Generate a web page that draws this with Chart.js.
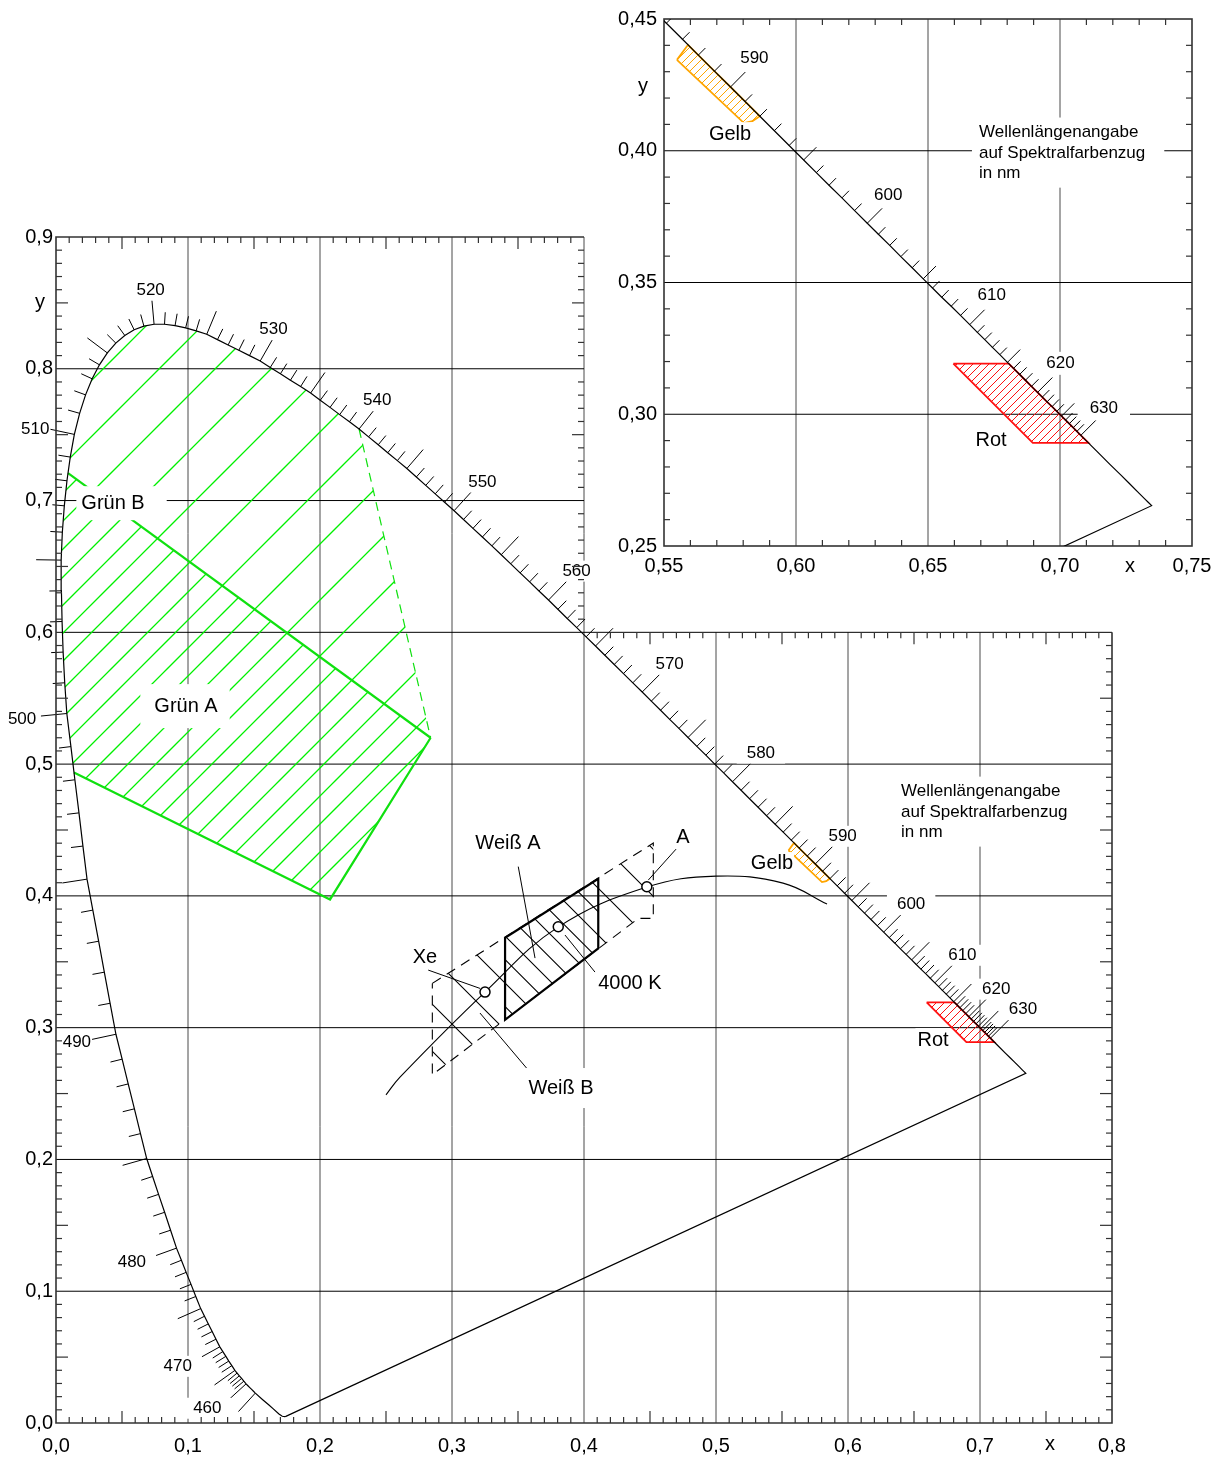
<!DOCTYPE html>
<html>
<head>
<meta charset="utf-8">
<title>Normfarbtafel – Signalfarben</title>
<script src="https://cdn.jsdelivr.net/npm/chart.js@4.4.1/dist/chart.umd.min.js"></script>
<style>
  html, body { margin: 0; padding: 0; background: #fff; }
  #wrap { position: relative; width: 1225px; height: 1458px; overflow: hidden; }
  #main { position: absolute; left: 0; top: 0; }
  #inset { position: absolute; left: 590px; top: 0; }
</style>
</head>
<body>
<div id="wrap">
  <canvas id="main" width="1225" height="1458"></canvas>
  <canvas id="inset" width="635" height="600"></canvas>
</div>
<script>
// ---------------- data ----------------
// CIE 1931 spectral locus (chromaticity x, y) by wavelength in nm
const locusNm = [
  380, 400, 420, 430, 440, 445, 450,
  455, 456, 457, 458, 459,
  460, 461, 462, 463, 464, 465, 466, 467, 468, 469,
  470, 471, 472, 473, 474, 475, 476, 477, 478, 479,
  480, 481, 482, 483, 484, 485, 486, 487, 488, 489,
  490, 491, 492, 493, 494, 495, 496, 497, 498, 499,
  500, 501, 502, 503, 504, 505, 506, 507, 508, 509,
  510, 511, 512, 513, 514, 515, 516, 517, 518, 519,
  520, 521, 522, 523, 524, 525, 526, 527, 528, 529,
  530, 531, 532, 533, 534, 535, 536, 537, 538, 539,
  540, 541, 542, 543, 544, 545, 546, 547, 548, 549,
  550, 551, 552, 553, 554, 555, 556, 557, 558, 559,
  560, 561, 562, 563, 564, 565, 566, 567, 568, 569,
  570, 571, 572, 573, 574, 575, 576, 577, 578, 579,
  580, 581, 582, 583, 584, 585, 586, 587, 588, 589,
  590, 591, 592, 593, 594, 595, 596, 597, 598, 599,
  600, 601, 602, 603, 604, 605, 606, 607, 608, 609,
  610, 611, 612, 613, 614, 615, 616, 617, 618, 619,
  620, 621, 622, 623, 624, 625, 626, 627, 628, 629,
  630,
  635, 640, 645, 650, 660, 670, 680, 700
];
const locusX = [
  0.1741, 0.1733, 0.1714, 0.1689, 0.1644, 0.1611, 0.1566,
  0.1510, 0.1496, 0.1482, 0.1468, 0.1454,
  0.1440, 0.1423, 0.1406, 0.1389, 0.1372, 0.1355, 0.1332, 0.1309, 0.1287, 0.1264,
  0.1241, 0.1212, 0.1183, 0.1154, 0.1125, 0.1096, 0.1059, 0.1023, 0.0986, 0.0950,
  0.0913, 0.0868, 0.0823, 0.0777, 0.0732, 0.0687, 0.0640, 0.0594, 0.0547, 0.0501,
  0.0454, 0.0410, 0.0366, 0.0323, 0.0279, 0.0235, 0.0204, 0.0174, 0.0143, 0.0113,
  0.0082, 0.0066, 0.0054, 0.0046, 0.0041, 0.0039, 0.0048, 0.0063, 0.0083, 0.0108,
  0.0139, 0.0179, 0.0224, 0.0274, 0.0329, 0.0389, 0.0453, 0.0521, 0.0592, 0.0666,
  0.0743, 0.0822, 0.0902, 0.0982, 0.1062, 0.1142, 0.1223, 0.1304, 0.1385, 0.1466,
  0.1547, 0.1623, 0.1700, 0.1776, 0.1853, 0.1929, 0.2002, 0.2076, 0.2149, 0.2223,
  0.2296, 0.2368, 0.2441, 0.2513, 0.2586, 0.2658, 0.2730, 0.2801, 0.2873, 0.2944,
  0.3016, 0.3087, 0.3159, 0.3230, 0.3302, 0.3373, 0.3445, 0.3516, 0.3588, 0.3659,
  0.3731, 0.3802, 0.3873, 0.3945, 0.4016, 0.4087, 0.4158, 0.4229, 0.4299, 0.4370,
  0.4441, 0.4510, 0.4580, 0.4649, 0.4719, 0.4788, 0.4855, 0.4923, 0.4990, 0.5058,
  0.5125, 0.5190, 0.5254, 0.5319, 0.5383, 0.5448, 0.5509, 0.5570, 0.5630, 0.5691,
  0.5752, 0.5807, 0.5863, 0.5918, 0.5974, 0.6029, 0.6077, 0.6125, 0.6174, 0.6222,
  0.6270, 0.6312, 0.6355, 0.6397, 0.6440, 0.6482, 0.6517, 0.6552, 0.6588, 0.6623,
  0.6658, 0.6687, 0.6715, 0.6744, 0.6772, 0.6801, 0.6824, 0.6847, 0.6869, 0.6892,
  0.6915, 0.6933, 0.6951, 0.6970, 0.6988, 0.7006, 0.7021, 0.7035, 0.7050, 0.7064,
  0.7079,
  0.7140, 0.7190, 0.7230, 0.7260, 0.7300, 0.7320, 0.7334, 0.7347
];
const locusY = [
  0.0050, 0.0048, 0.0051, 0.0069, 0.0109, 0.0138, 0.0177,
  0.0227, 0.0241, 0.0255, 0.0269, 0.0283,
  0.0297, 0.0317, 0.0338, 0.0358, 0.0379, 0.0399, 0.0435, 0.0470, 0.0506, 0.0542,
  0.0578, 0.0636, 0.0694, 0.0752, 0.0810, 0.0868, 0.0960, 0.1052, 0.1143, 0.1235,
  0.1327, 0.1463, 0.1599, 0.1735, 0.1871, 0.2007, 0.2196, 0.2384, 0.2573, 0.2761,
  0.2950, 0.3185, 0.3421, 0.3656, 0.3892, 0.4127, 0.4378, 0.4630, 0.4881, 0.5133,
  0.5384, 0.5617, 0.5850, 0.6082, 0.6315, 0.6548, 0.6760, 0.6960, 0.7150, 0.7330,
  0.7502, 0.7662, 0.7802, 0.7924, 0.8030, 0.8120, 0.8195, 0.8253, 0.8296, 0.8324,
  0.8338, 0.8338, 0.8328, 0.8310, 0.8288, 0.8262, 0.8221, 0.8181, 0.8140, 0.8100,
  0.8059, 0.8010, 0.7962, 0.7913, 0.7865, 0.7816, 0.7761, 0.7707, 0.7652, 0.7598,
  0.7543, 0.7483, 0.7423, 0.7363, 0.7303, 0.7243, 0.7179, 0.7115, 0.7051, 0.6987,
  0.6923, 0.6856, 0.6789, 0.6723, 0.6656, 0.6589, 0.6520, 0.6451, 0.6383, 0.6314,
  0.6245, 0.6175, 0.6105, 0.6036, 0.5966, 0.5896, 0.5826, 0.5756, 0.5687, 0.5617,
  0.5547, 0.5478, 0.5409, 0.5340, 0.5271, 0.5202, 0.5135, 0.5068, 0.5000, 0.4933,
  0.4866, 0.4802, 0.4737, 0.4673, 0.4608, 0.4544, 0.4484, 0.4423, 0.4363, 0.4302,
  0.4242, 0.4187, 0.4131, 0.4076, 0.4020, 0.3965, 0.3917, 0.3869, 0.3821, 0.3773,
  0.3725, 0.3683, 0.3641, 0.3598, 0.3556, 0.3514, 0.3479, 0.3444, 0.3410, 0.3375,
  0.3340, 0.3311, 0.3283, 0.3254, 0.3226, 0.3197, 0.3174, 0.3151, 0.3129, 0.3106,
  0.3083, 0.3065, 0.3047, 0.3029, 0.3011, 0.2993, 0.2978, 0.2964, 0.2949, 0.2935,
  0.2920,
  0.2859, 0.2809, 0.2770, 0.2740, 0.2700, 0.2680, 0.2666, 0.2653
];
// wavelength marks on the locus (every nm from 460 nm, plus 455 nm) and the numbered ones
const tickRangeNm = [455, 630];
const fineTicksFromNm = 460;
const labelNmMain = [460, 470, 480, 490, 500, 510, 520, 530, 540, 550, 560, 570, 580, 590, 600, 610, 620, 630];
const labelNmInset = [590, 600, 610, 620, 630];

// Planckian locus
const planckX = [0.2500, 0.2606, 0.3250, 0.3803, 0.4477, 0.5000, 0.5508, 0.5841];
const planckY = [0.2490, 0.2625, 0.3270, 0.3763, 0.4067, 0.4150, 0.4097, 0.3938];

// reference points: Xe, 4000 K, light type A
const refNames = ['Xe', '4000 K', 'A'];
const refX = [0.3250, 0.3805, 0.4476];
const refY = [0.3270, 0.3766, 0.4069];

// signal colour regions (corner points; locus pieces are taken from the locus table)
const gruenUpper = [[0.0091, 0.7208], [0.2838, 0.5200]];                 // boundary Grün B / Grün A
const gruenLower = [[0.0136, 0.4937], [0.2076, 0.3973], [0.2838, 0.5200]];
const gruenOpen  = [[0.2296, 0.7543], [0.2838, 0.5200]];                 // dashed limit of Grün B
const weissB = [[0.2851, 0.3336], [0.4525, 0.4401], [0.4525, 0.3829], [0.4411, 0.3829], [0.2851, 0.2643]];
const weissA = [[0.3402, 0.3682], [0.4108, 0.4130], [0.4108, 0.3602], [0.3402, 0.3060]];
const gelbStart = [[0.5549, 0.4345], [0.5591, 0.4402]];
const gelbEnd   = [[0.5835, 0.4112], [0.5803, 0.4105]];
const rotStart  = [[0.6596, 0.3192], [0.6806, 0.3192]];
const rotEnd    = [[0.7108, 0.2891], [0.6897, 0.2891]];

// axis ticks
const xTicksMain = [0, 0.1, 0.2, 0.3, 0.4, 0.5, 0.6, 0.7, 0.8];
const xLabelsMain = ['0,0', '0,1', '0,2', '0,3', '0,4', '0,5', '0,6', '0,7', '0,8'];
const yTicksMain = [0, 0.1, 0.2, 0.3, 0.4, 0.5, 0.6, 0.7, 0.8, 0.9];
const yLabelsMain = ['0,0', '0,1', '0,2', '0,3', '0,4', '0,5', '0,6', '0,7', '0,8', '0,9'];
const xTicksInset = [0.55, 0.60, 0.65, 0.70, 0.75];
const xLabelsInset = ['0,55', '0,60', '0,65', '0,70', '0,75'];
const yTicksInset = [0.25, 0.30, 0.35, 0.40, 0.45];
const yLabelsInset = ['0,25', '0,30', '0,35', '0,40', '0,45'];

// ---------------- helpers ----------------
const FONT = '"Liberation Sans", Arial, Helvetica, sans-serif';
const pts = arr => arr.map(([x, y]) => ({x, y}));
const locusPts = locusNm.map((nm, i) => ({x: locusX[i], y: locusY[i]}));
function locusSlice(a, b) {
  const out = [];
  locusNm.forEach((nm, i) => { if (nm >= a && nm <= b) out.push({x: locusX[i], y: locusY[i]}); });
  return out;
}
const closed = p => p.concat([p[0]]);

// line hatching: '/' lines satisfy x + y = phase (mod period), '\' lines y - x = phase (mod period)
function hatch(color, period, phases, dir, lw) {
  const c = document.createElement('canvas');
  c.width = period; c.height = period;
  const g = c.getContext('2d');
  g.strokeStyle = color; g.lineWidth = lw;
  g.beginPath();
  for (const p of phases) {
    for (const k of [-1, 0, 1]) {
      const q = p + k * period;
      if (dir === '/') { g.moveTo(-3, q + 3); g.lineTo(q + 3, -3); }
      else { g.moveTo(-3, q - 3); g.lineTo(period + 3, q + period + 3); }
    }
  }
  g.stroke();
  return g.createPattern(c, 'repeat');
}

Chart.defaults.font.family = FONT;
Chart.defaults.color = '#000';
Chart.defaults.elements.point.radius = 0;
Chart.defaults.elements.point.hoverRadius = 0;
Chart.defaults.elements.line.tension = 0;

const GREEN = '#10e010', GREEN_H = '#00f000', ORANGE = '#ffa500', RED = '#ff1010';

// region polygons
const gruenAll = closed([{x: gruenLower[0][0], y: gruenLower[0][1]}]
  .concat(locusSlice(499, 540), pts([gruenLower[2], gruenLower[1]])));
const gruenA = closed([{x: gruenLower[0][0], y: gruenLower[0][1]}]
  .concat(locusSlice(499, 508), pts([gruenUpper[0], gruenLower[2], gruenLower[1]])));
const gelbPoly = closed(pts(gelbStart).concat(locusSlice(588, 592), pts(gelbEnd)));
const rotPoly = closed(pts(rotStart).concat(locusSlice(616, 630), pts(rotEnd)));

function lineDs(data, color, width, extra) {
  return Object.assign({data, borderColor: color, borderWidth: width, fill: false, pointRadius: 0}, extra || {});
}
function fillDs(data, pattern, borderColor, borderWidth, extra) {
  return Object.assign({data, backgroundColor: pattern, borderColor: borderColor || 'rgba(0,0,0,0)',
    borderWidth: borderWidth || 0, fill: 'shape', pointRadius: 0}, extra || {});
}

// text helper with white backing box
function paintNotes(chart, notes) {
  const {ctx, scales: {x, y}} = chart;
  ctx.save();
  ctx.textBaseline = 'middle';
  ctx.textAlign = 'left';
  for (const n of notes) {
    ctx.font = `${n.size}px ${FONT}`;
    const rows = n.rows.map(r => {
      const w = ctx.measureText(r.t).width;
      const px = x.getPixelForValue(r.x), py = y.getPixelForValue(r.y);
      return {t: r.t, left: n.align === 'left' ? px : px - w / 2, py, w};
    });
    if (n.pad) {
      const [pl, pr, pt, pb] = n.pad;
      const l = Math.min(...rows.map(r => r.left)) - pl;
      const r = Math.max(...rows.map(r => r.left + r.w)) + pr;
      const t = Math.min(...rows.map(r => r.py)) - n.size * 0.5 - pt;
      const b = Math.max(...rows.map(r => r.py)) + n.size * 0.5 + pb;
      ctx.fillStyle = '#fff';
      ctx.fillRect(l, t, r - l, b - t);
    }
    ctx.fillStyle = '#000';
    rows.forEach(r => ctx.fillText(r.t, r.left, r.py));
  }
  ctx.restore();
}

// perpendicular wavelength marks on the spectral locus
function paintLocusMarks(chart, cfg) {
  const {ctx, scales: {x, y}, chartArea: a} = chart;
  const X = v => x.getPixelForValue(v), Y = v => y.getPixelForValue(v);
  const cx = X(0.33), cy = Y(0.33);
  ctx.save();
  if (cfg.clip) { ctx.beginPath(); ctx.rect(a.left, a.top, a.right - a.left, a.bottom - a.top); ctx.clip(); }
  ctx.strokeStyle = '#000';
  ctx.lineWidth = 1;
  const labels = [];
  for (let i = 1; i < locusNm.length - 1; i++) {
    const nm = locusNm[i];
    if (nm < tickRangeNm[0] || nm > tickRangeNm[1]) continue;
    if (nm < fineTicksFromNm && nm % 5 !== 0) continue;
    const px = X(locusX[i]), py = Y(locusY[i]);
    const tx = X(locusX[i + 1]) - X(locusX[i - 1]), ty = Y(locusY[i + 1]) - Y(locusY[i - 1]);
    const d = Math.hypot(tx, ty) || 1;
    let nx = ty / d, ny = -tx / d;
    if ((px - cx) * nx + (py - cy) * ny < 0) { nx = -nx; ny = -ny; }
    const len = nm % 10 === 0 ? cfg.long10 : nm % 5 === 0 ? cfg.long5 : cfg.short;
    ctx.beginPath();
    ctx.moveTo(px, py);
    ctx.lineTo(px + nx * len, py + ny * len);
    ctx.stroke();
    if (cfg.labels.includes(nm)) labels.push({nm, px, py, nx, ny, len});
  }
  ctx.restore();
  ctx.save();
  ctx.font = `${cfg.size}px ${FONT}`;
  ctx.textBaseline = 'middle';
  ctx.textAlign = 'center';
  for (const L of labels) {
    const t = String(L.nm);
    const w = ctx.measureText(t).width;
    const nudge = (cfg.nudge && cfg.nudge[L.nm]) || [0, 0];
    const padX = (cfg.tight || []).includes(L.nm) ? 1 : cfg.padX;
    const gx = L.px + L.nx * (L.len + 3) + L.nx * w * 0.35 + nudge[0];
    const gy = L.py + L.ny * (L.len + 3) + L.ny * cfg.size * 0.42 - 2 + nudge[1];
    ctx.fillStyle = '#fff';
    ctx.fillRect(gx - w / 2 - padX, gy - cfg.size * 0.5 - cfg.padY, w + 2 * padX, cfg.size + 2 * cfg.padY);
    ctx.fillStyle = '#000';
    ctx.fillText(t, gx, gy);
  }
  ctx.restore();
}

function seg(ctx, x1, y1, x2, y2) { ctx.beginPath(); ctx.moveTo(x1, y1); ctx.lineTo(x2, y2); ctx.stroke(); }

// ---------------- main diagram ----------------
const mainNotes = [
  {rows: [{t: 'Grün B', x: 0.0432, y: 0.6980}], size: 20, pad: [5, 22, 7, 7]},
  {rows: [{t: 'Grün A', x: 0.0985, y: 0.5440}], size: 20, pad: [14, 12, 12, 12]},
  {rows: [{t: 'Weiß A', x: 0.3424, y: 0.4401}], size: 20, pad: [3, 3, 2, 2]},
  {rows: [{t: 'Xe', x: 0.2795, y: 0.3536}], size: 20, pad: [2, 2, 2, 2]},
  {rows: [{t: '4000 K', x: 0.4348, y: 0.3338}], size: 20, pad: [2, 2, 2, 2]},
  {rows: [{t: 'A', x: 0.4750, y: 0.4446}], size: 20, pad: [2, 2, 2, 2]},
  {rows: [{t: 'Weiß B', x: 0.3826, y: 0.2542}], size: 20, pad: [6, 6, 10, 10]},
  {rows: [{t: 'Gelb', x: 0.5424, y: 0.4249}], size: 20, pad: [1, 1, 1, 1]},
  {rows: [{t: 'Rot', x: 0.6644, y: 0.2906}], size: 20, pad: [2, 2, 2, 2]},
  {rows: [{t: 'Wellenlängenangabe', x: 0.6402, y: 0.4795},
          {t: 'auf Spektralfarbenzug', x: 0.6402, y: 0.4636},
          {t: 'in nm', x: 0.6402, y: 0.4484}], size: 17, align: 'left', pad: [7, 14, 6, 6]},
  {rows: [{t: 'y', x: -0.0121, y: 0.8500}], size: 20},
  {rows: [{t: 'x', x: 0.7530, y: -0.0165}], size: 20}
];

const mainFrame = {
  id: 'mainFrame',
  beforeDatasetsDraw(chart) {
    const {ctx, scales: {x, y}} = chart;
    const X = v => x.getPixelForValue(v), Y = v => y.getPixelForValue(v);
    ctx.save();
    ctx.lineWidth = 1;
    // vertical grid lines (upper right part belongs to the enlarged detail)
    for (let i = 1; i <= 7; i++) {
      ctx.strokeStyle = '#4a4a4a';
      seg(ctx, X(i / 10), Y(0), X(i / 10), Y(i <= 4 ? 0.9 : 0.6));
    }
    // horizontal grid lines
    for (let j = 1; j <= 8; j++) {
      ctx.strokeStyle = '#000';
      seg(ctx, X(0), Y(j / 10), X(j <= 6 ? 0.8 : 0.4), Y(j / 10));
    }
    ctx.restore();
  },
  afterDatasetsDraw(chart) {
    const {ctx, scales: {x, y}} = chart;
    const X = v => x.getPixelForValue(v), Y = v => y.getPixelForValue(v);
    paintLocusMarks(chart, {short: 12, long5: 25, long10: 26, labels: labelNmMain, size: 17, padX: 10, padY: 2,
      clip: false, tight: [490, 500, 510], nudge: {
        460: [-10, 2], 470: [-8, 4], 480: [-8, 4], 490: [-1, 2], 500: [-6, 4], 510: [-1, 4],
        520: [0, 4], 530: [-6, 2], 540: [-6, 2], 550: [2, 0], 560: [1, -1], 580: [1, -1], 630: [5, -1]}});
    ctx.save();
    // frame
    ctx.strokeStyle = '#333';
    ctx.lineWidth = 1.6;
    ctx.beginPath();
    ctx.moveTo(X(0.4), Y(0.9)); ctx.lineTo(X(0), Y(0.9)); ctx.lineTo(X(0), Y(0));
    ctx.lineTo(X(0.8), Y(0)); ctx.lineTo(X(0.8), Y(0.6));
    ctx.stroke();
    // hundredth ticks along the frame, pointing inward
    ctx.lineWidth = 1.2;
    const L = i => (i % 5 === 0 ? 12 : 6);
    for (let i = 1; i < 80; i++) {
      if (i % 10 === 0) continue;
      const v = i / 100;
      seg(ctx, X(v), Y(0), X(v), Y(0) - L(i));
      if (i < 40) seg(ctx, X(v), Y(0.9), X(v), Y(0.9) + L(i));
      else seg(ctx, X(v), Y(0.6), X(v), Y(0.6) + L(i));
    }
    for (let j = 1; j < 90; j++) {
      if (j % 10 === 0) continue;
      const v = j / 100;
      seg(ctx, X(0), Y(v), X(0) + L(j), Y(v));
      if (j < 60) seg(ctx, X(0.8), Y(v), X(0.8) - L(j), Y(v));
      else seg(ctx, X(0.4), Y(v), X(0.4) - L(j), Y(v));
    }
    ctx.restore();
    paintNotes(chart, mainNotes);
  }
};

const leaders = [
  [[0.3502, 0.4222], [0.3629, 0.3528]],   // Weiß A
  [[0.4083, 0.3422], [0.3856, 0.3703]],   // 4000 K
  [[0.2820, 0.3437], [0.3212, 0.3298]],   // Xe
  [[0.4702, 0.4360], [0.4487, 0.4120]],   // A
  [[0.3578, 0.2678], [0.3212, 0.3111]]    // Weiß B
];

const mainDatasets = [
  lineDs(locusPts.concat([locusPts[0]]), '#000', 1.2),
  {data: refX.map((v, i) => ({x: v, y: refY[i]})), showLine: false, pointRadius: 5, pointBorderWidth: 1.5,
   pointBackgroundColor: '#fff', pointBorderColor: '#000', pointHoverRadius: 5},
  ...leaders.map(l => lineDs(pts(l), '#000', 1)),
  lineDs(planckX.map((v, i) => ({x: v, y: planckY[i]})), '#000', 1.1, {tension: 0.4}),
  fillDs(closed(pts(weissA)), hatch('#000', 47, [31.5], '\\', 1.1), '#000', 2.2),
  fillDs(closed(pts(weissB)), hatch('#000', 47, [8], '\\', 1.1), '#000', 1.1, {borderDash: [10, 7]}),
  lineDs(pts(gruenUpper), GREEN, 2.2),
  lineDs(pts(gruenLower), GREEN, 2.2),
  lineDs(pts(gruenOpen), GREEN, 1.2, {borderDash: [9, 6]}),
  fillDs(gruenA, hatch(GREEN_H, 56, [52], '/', 1.3)),
  fillDs(gruenAll, hatch(GREEN_H, 56, [24], '/', 1.3)),
  fillDs(gelbPoly, hatch(ORANGE, 8, [3], '/', 1), ORANGE, 1.8),
  fillDs(rotPoly, hatch(RED, 8, [3], '/', 1), RED, 1.8)
];

function axisCfg(min, max, ticks, labels, size, pad, fit) {
  return {
    type: 'linear', min, max,
    afterBuildTicks: s => { s.ticks = ticks.map(v => ({value: v})); },
    afterFit: fit,
    ticks: {callback: (v, i) => labels[i], font: {size, family: FONT}, color: '#000',
            padding: pad, autoSkip: false, maxRotation: 0, minRotation: 0},
    grid: {display: false, drawTicks: false},
    border: {display: false}
  };
}

new Chart(document.getElementById('main'), {
  type: 'line',
  data: {datasets: mainDatasets},
  options: {
    responsive: false, animation: false, devicePixelRatio: 1, events: [],
    layout: {padding: {top: 237, right: 113, left: 0, bottom: 0}},
    plugins: {legend: {display: false}, tooltip: {enabled: false}},
    scales: {
      x: axisCfg(0, 0.8, xTicksMain, xLabelsMain, 20, 11, s => { s.height = 35; }),
      y: axisCfg(0, 0.9, yTicksMain, yLabelsMain, 20, 3, s => { s.width = 56; })
    }
  },
  plugins: [mainFrame]
});

// ---------------- enlarged detail (red end of the locus) ----------------
const insetNotes = [
  {rows: [{t: 'Gelb', x: 0.5750, y: 0.4063}], size: 20, pad: [2, 2, 2, 2]},
  {rows: [{t: 'Rot', x: 0.6739, y: 0.2900}], size: 20, pad: [2, 2, 2, 2]},
  {rows: [{t: 'Wellenlängenangabe', x: 0.6693, y: 0.4071},
          {t: 'auf Spektralfarbenzug', x: 0.6693, y: 0.3991},
          {t: 'in nm', x: 0.6693, y: 0.3915}], size: 17, align: 'left', pad: [7, 19, 6, 6]},
  {rows: [{t: 'y', x: 0.5420, y: 0.4245}], size: 20},
  {rows: [{t: 'x', x: 0.7265, y: 0.2422}], size: 20}
];

const insetFrame = {
  id: 'insetFrame',
  beforeDatasetsDraw(chart) {
    const {ctx, scales: {x, y}} = chart;
    const X = v => x.getPixelForValue(v), Y = v => y.getPixelForValue(v);
    ctx.save();
    ctx.lineWidth = 1;
    for (const v of [0.60, 0.65, 0.70]) { ctx.strokeStyle = '#4a4a4a'; seg(ctx, X(v), Y(0.25), X(v), Y(0.45)); }
    for (const v of [0.30, 0.35, 0.40]) { ctx.strokeStyle = '#000'; seg(ctx, X(0.55), Y(v), X(0.75), Y(v)); }
    ctx.strokeStyle = '#333';
    ctx.lineWidth = 1.6;
    ctx.strokeRect(X(0.55), Y(0.45), X(0.75) - X(0.55), Y(0.25) - Y(0.45));
    ctx.lineWidth = 1.2;
    for (let i = 56; i < 75; i++) {
      if (i % 5 === 0) continue;
      const v = i / 100;
      seg(ctx, X(v), Y(0.25), X(v), Y(0.25) - 6);
      seg(ctx, X(v), Y(0.45), X(v), Y(0.45) + 6);
    }
    for (let j = 26; j < 45; j++) {
      if (j % 5 === 0) continue;
      const v = j / 100;
      seg(ctx, X(0.55), Y(v), X(0.55) + 6, Y(v));
      seg(ctx, X(0.75), Y(v), X(0.75) - 6, Y(v));
    }
    ctx.restore();
  },
  afterDatasetsDraw(chart) {
    paintLocusMarks(chart, {short: 10, long5: 18, long10: 21, labels: labelNmInset, size: 17, padX: 12, padY: 3,
      clip: true, nudge: {590: [0, -5], 600: [-3, -4], 610: [-2, -5], 620: [-1, -5], 630: [-1, -3]}});
    paintNotes(chart, insetNotes);
  }
};

new Chart(document.getElementById('inset'), {
  type: 'line',
  data: {datasets: [
    lineDs(locusPts.concat([locusPts[0]]), '#000', 1.2),
    fillDs(gelbPoly, hatch(ORANGE, 8, [3], '/', 1), ORANGE, 1.8),
    fillDs(rotPoly, hatch(RED, 8, [3], '/', 1), RED, 1.8)
  ]},
  options: {
    responsive: false, animation: false, devicePixelRatio: 1, events: [],
    layout: {padding: {top: 18, right: 33, left: 0, bottom: 0}},
    plugins: {legend: {display: false}, tooltip: {enabled: false}},
    scales: {
      x: axisCfg(0.55, 0.75, xTicksInset, xLabelsInset, 20, 8, s => { s.height = 54; }),
      y: axisCfg(0.25, 0.45, yTicksInset, yLabelsInset, 20, 7, s => { s.width = 74; })
    }
  },
  plugins: [insetFrame]
});
</script>
</body>
</html>
